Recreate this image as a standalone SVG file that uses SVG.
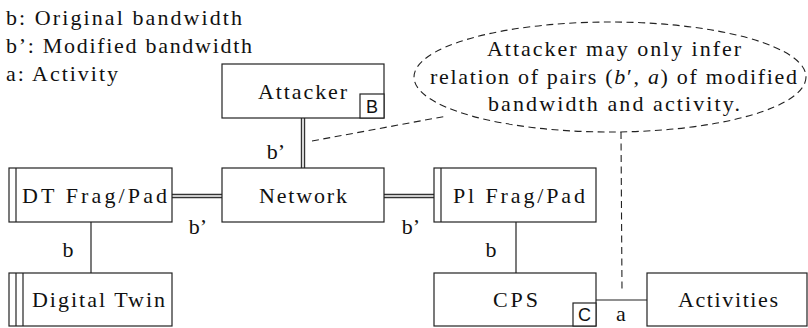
<svg xmlns="http://www.w3.org/2000/svg" width="808" height="328" viewBox="0 0 808 328">
<style>
.box{fill:#fff;stroke:#222;stroke-width:1.2}
.ln{stroke:#222;stroke-width:1.2;fill:none}
.dbl{stroke:#333;stroke-width:4.4;fill:none}
.dblin{stroke:#fff;stroke-width:1.6;fill:none}
.dash{stroke:#222;stroke-width:1.1;fill:none;stroke-dasharray:7 4.5}
.t{font-family:'Liberation Serif','DejaVu Serif','Noto Serif',Tinos,FreeSerif,'Times New Roman',Times,serif;font-size:22px;fill:#111}
.m{text-anchor:middle}
.s{font-family:'Liberation Sans',Arial,sans-serif;font-size:18px;fill:#111;text-anchor:middle}
</style>
<g id="legend">
<text class="t" x="6" y="25" textLength="236" lengthAdjust="spacing">b: Original bandwidth</text>
<text class="t" x="6" y="53" textLength="246" lengthAdjust="spacing">b’: Modified bandwidth</text>
<text class="t" x="6" y="81" textLength="112" lengthAdjust="spacing">a: Activity</text>
</g>
<g id="connectors">
<line class="dbl" x1="303" y1="118" x2="303" y2="168"/>
<line class="dblin" x1="303" y1="117" x2="303" y2="169"/>
<line class="dbl" x1="172" y1="196" x2="222" y2="196"/>
<line class="dblin" x1="171" y1="196" x2="223" y2="196"/>
<line class="dbl" x1="384" y1="196" x2="434" y2="196"/>
<line class="dblin" x1="383" y1="196" x2="435" y2="196"/>
<line class="ln" x1="91" y1="222" x2="91" y2="273"/>
<line class="ln" x1="516" y1="222" x2="516" y2="273"/>
<line class="ln" x1="596" y1="300" x2="647" y2="300"/>
<line class="dash" x1="312" y1="141" x2="447" y2="116"/>
<line class="dash" x1="621" y1="132" x2="622" y2="290"/>
<text class="t m" x="276" y="159">b’</text>
<text class="t m" x="198" y="234">b’</text>
<text class="t m" x="411" y="234">b’</text>
<text class="t m" x="68" y="257">b</text>
<text class="t m" x="491" y="257">b</text>
<text class="t m" x="621" y="321">a</text>
</g>
<g id="note">
<ellipse cx="610" cy="77" rx="196" ry="55" fill="none" class="dash"/>
<text class="t" x="487" y="56" textLength="254" lengthAdjust="spacing">Attacker may only infer</text>
<text class="t" x="430" y="84" textLength="367" lengthAdjust="spacing">relation of pairs (<tspan font-style="italic">b</tspan>′, <tspan font-style="italic">a</tspan>) of modified</text>
<text class="t" x="488" y="111" textLength="252" lengthAdjust="spacing">bandwidth and activity.</text>
</g>
<g id="attacker">
<rect class="box" x="222" y="64" width="162" height="54"/>
<text class="t" x="258" y="99" textLength="89" lengthAdjust="spacing">Attacker</text>
<rect class="box" x="360" y="94" width="24" height="24"/>
<text class="s" x="372" y="113">B</text>
</g>
<g id="network">
<rect class="box" x="222" y="168" width="162" height="54"/>
<text class="t" x="259" y="203" textLength="88" lengthAdjust="spacing">Network</text>
</g>
<g id="dtfrag">
<rect class="box" x="9" y="168" width="163" height="54"/>
<line class="ln" x1="16" y1="168" x2="16" y2="222"/>
<text class="t" x="22" y="203" textLength="145" lengthAdjust="spacing">DT Frag/Pad</text>
</g>
<g id="digitaltwin">
<rect class="box" x="9" y="273" width="163" height="53"/>
<line class="ln" x1="16" y1="273" x2="16" y2="326"/>
<line class="ln" x1="23" y1="273" x2="23" y2="326"/>
<text class="t" x="32" y="307" textLength="133" lengthAdjust="spacing">Digital Twin</text>
</g>
<g id="plfrag">
<rect class="box" x="434" y="168" width="162" height="54"/>
<line class="ln" x1="441" y1="168" x2="441" y2="222"/>
<text class="t" x="453" y="203" textLength="132" lengthAdjust="spacing">Pl Frag/Pad</text>
</g>
<g id="cps">
<rect class="box" x="434" y="273" width="162" height="53"/>
<text class="t" x="493" y="307" textLength="45" lengthAdjust="spacing">CPS</text>
<rect class="box" x="573" y="303" width="23" height="23"/>
<text class="s" x="584.5" y="321">C</text>
</g>
<g id="activities">
<rect class="box" x="647" y="273" width="160" height="53"/>
<text class="t" x="678" y="307" textLength="100" lengthAdjust="spacing">Activities</text>
</g>
</svg>
